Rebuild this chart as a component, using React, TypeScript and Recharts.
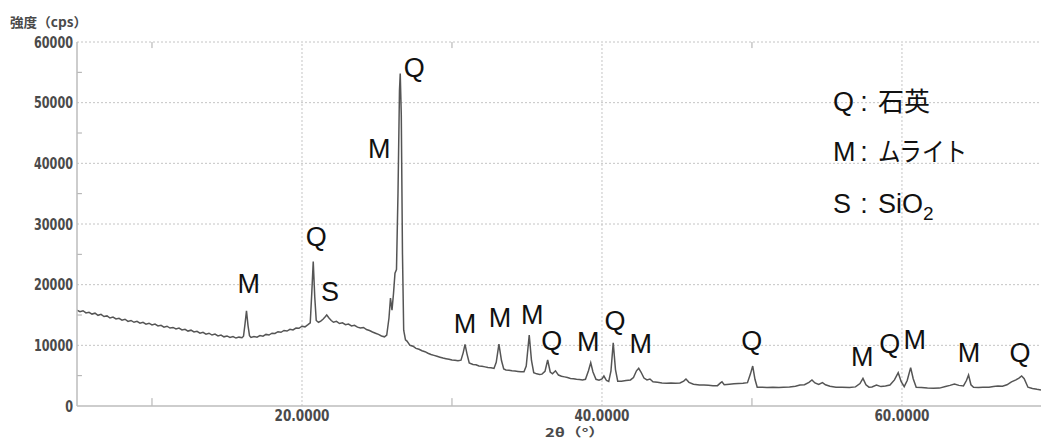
import React from 'react';
import { LineChart, Line, XAxis, YAxis, ReferenceLine, ReferenceDot } from 'recharts';

// [2θ (deg), intensity (cps)]
const scan: [number, number][] = [
  [5.0, 15800], [5.2, 15550], [5.4, 15700], [5.6, 15350], [5.8, 15450], [6.0, 15150], [6.2, 15300], [6.4, 14950],
  [6.6, 15100], [6.8, 14750], [7.0, 14850], [7.2, 14500], [7.4, 14650], [7.6, 14350], [7.8, 14450], [8.0, 14150],
  [8.2, 14300], [8.4, 13950], [8.6, 14100], [8.8, 13800], [9.0, 13950], [9.2, 13650], [9.4, 13800], [9.6, 13500],
  [9.8, 13650], [10.0, 13350], [10.2, 13500], [10.4, 13200], [10.6, 13300], [10.8, 13000], [11.0, 13150], [11.2, 12850],
  [11.4, 12950], [11.6, 12700], [11.8, 12850], [12.0, 12550], [12.2, 12650], [12.4, 12350], [12.6, 12500], [12.8, 12200],
  [13.0, 12300], [13.2, 12000], [13.4, 12150], [13.6, 11850], [13.8, 12000], [14.0, 11700], [14.2, 11850], [14.4, 11550],
  [14.6, 11700], [14.8, 11400], [15.0, 11550], [15.2, 11300], [15.4, 11450], [15.6, 11200], [15.8, 11350], [16.0, 11250],
  [16.1, 11500], [16.2, 13500], [16.3, 15700], [16.4, 13300], [16.5, 11600], [16.6, 11300], [16.8, 11450], [17.0, 11350],
  [17.2, 11600], [17.4, 11500], [17.6, 11800], [17.8, 11700], [18.0, 12000], [18.2, 11950], [18.4, 12250], [18.6, 12150],
  [18.8, 12450], [19.0, 12350], [19.2, 12650], [19.4, 12550], [19.6, 12850], [19.8, 12800], [20.0, 13150], [20.2, 13050],
  [20.4, 13400], [20.55, 13700], [20.65, 18500], [20.75, 23800], [20.85, 18000], [20.95, 14100], [21.1, 13800], [21.25, 14000],
  [21.4, 14300], [21.55, 14700], [21.65, 15000], [21.8, 14500], [21.95, 14100], [22.1, 13800], [22.3, 13950], [22.5, 13600],
  [22.7, 13700], [22.9, 13400], [23.1, 13500], [23.3, 13200], [23.5, 13300], [23.7, 13000], [23.9, 12850], [24.1, 12950],
  [24.3, 12600], [24.5, 12450], [24.7, 12200], [24.9, 12000], [25.1, 11800], [25.3, 11550], [25.5, 11400], [25.65, 11700],
  [25.8, 14500], [25.9, 17800], [26.0, 15800], [26.1, 18500], [26.2, 21900], [26.3, 22500], [26.4, 35000], [26.5, 52000],
  [26.55, 54800], [26.62, 48000], [26.7, 25000], [26.78, 12500], [26.9, 10900], [27.0, 10700], [27.2, 10000], [27.4, 9850],
  [27.6, 9500], [27.8, 9350], [28.0, 9100], [28.2, 8950], [28.4, 8700], [28.6, 8500], [28.8, 8350], [29.0, 8200],
  [29.2, 8050], [29.4, 7900], [29.6, 7800], [29.8, 7700], [30.0, 7600], [30.2, 7550], [30.4, 7450], [30.6, 7550],
  [30.75, 8800], [30.87, 10170], [31.0, 8600], [31.15, 7100], [31.4, 6850], [31.6, 6800], [31.8, 6600], [32.0, 6550],
  [32.2, 6450], [32.4, 6350], [32.6, 6300], [32.8, 6200], [32.95, 7200], [33.13, 10200], [33.3, 7500], [33.45, 6100],
  [33.6, 5950], [33.8, 5900], [34.0, 5800], [34.2, 5750], [34.4, 5700], [34.6, 5650], [34.8, 5650], [34.95, 6600],
  [35.15, 11700], [35.3, 7500], [35.45, 5500], [35.65, 5300], [35.85, 5200], [36.0, 5250], [36.2, 5700], [36.38, 7580],
  [36.55, 5600], [36.7, 5300], [36.9, 5800], [37.1, 5100], [37.3, 4900], [37.5, 4800], [37.7, 4700], [37.9, 4550],
  [38.1, 4500], [38.3, 4400], [38.5, 4350], [38.7, 4300], [38.9, 4400], [39.1, 5800], [39.25, 7140], [39.4, 5600],
  [39.6, 4400], [39.8, 4250], [40.0, 4450], [40.13, 4940], [40.3, 4200], [40.45, 4050], [40.6, 5800], [40.75, 10430],
  [40.9, 6000], [41.05, 4100], [41.3, 4100], [41.6, 4200], [41.9, 4300], [42.1, 4700], [42.3, 5800], [42.45, 6210],
  [42.6, 5600], [42.8, 4600], [43.0, 4300], [43.2, 4450], [43.4, 4000], [43.7, 3900], [44.0, 3800], [44.3, 3750],
  [44.6, 3800], [44.9, 3750], [45.2, 3800], [45.45, 4100], [45.6, 4450], [45.8, 3900], [46.1, 3600], [46.5, 3450],
  [46.8, 3450], [47.1, 3400], [47.4, 3350], [47.7, 3350], [47.9, 3800], [48.0, 3980], [48.15, 3500], [48.5, 3600],
  [48.8, 3650], [49.1, 3700], [49.4, 3750], [49.7, 3850], [49.9, 5300], [50.05, 6590], [50.2, 4400], [50.35, 3100],
  [50.7, 3100], [51.0, 3050], [51.4, 3100], [51.8, 3050], [52.1, 3100], [52.5, 3150], [52.9, 3250], [53.2, 3450],
  [53.5, 3500], [53.8, 3900], [54.0, 4286], [54.2, 3800], [54.45, 3550], [54.7, 3846], [54.9, 3500], [55.2, 3250],
  [55.6, 3100], [56.0, 3100], [56.5, 3050], [56.9, 3150], [57.2, 3700], [57.4, 4560], [57.6, 3500], [57.8, 3100],
  [58.0, 3150], [58.3, 3460], [58.6, 3200], [58.9, 3300], [59.2, 3450], [59.5, 4300], [59.75, 5490], [59.95, 4000],
  [60.15, 3200], [60.35, 4200], [60.58, 6318], [60.75, 4500], [60.95, 3100], [61.3, 3050], [61.7, 2950], [62.1, 2912],
  [62.5, 2950], [62.9, 3200], [63.2, 3400], [63.5, 3627], [63.8, 3400], [64.1, 3300], [64.3, 4200], [64.44, 5109],
  [64.6, 3500], [64.77, 3077], [65.1, 3050], [65.4, 3077], [65.8, 3100], [66.1, 3200], [66.4, 3300], [66.7, 3250],
  [67.0, 3500], [67.3, 3976], [67.6, 4300], [67.8, 4600], [67.98, 4945], [68.15, 4500], [68.4, 3100], [68.7, 2900],
  [69.0, 2750], [69.27, 2640],
];

const xDomain: [number, number] = [5, 69.27];
const yDomain: [number, number] = [0, 60000];
const xMajorTicks = [20, 40, 60];
const xMinorTicks = [10, 30, 50];
const yMajorTicks = [0, 10000, 20000, 30000, 40000, 50000, 60000];
const yMinorTicks = [5000, 15000, 25000, 35000, 45000, 55000];

// peak identification labels: phase letter placed at (2θ, cps)
const peakLabels: { phase: string; angle: number; counts: number }[] = [
  { phase: 'M', angle: 16.45, counts: 20226 },
  { phase: 'Q', angle: 20.95, counts: 27973 },
  { phase: 'S', angle: 21.87, counts: 18956 },
  { phase: 'M', angle: 25.15, counts: 42480 },
  { phase: 'Q', angle: 27.49, counts: 55830 },
  { phase: 'M', angle: 30.87, counts: 13682 },
  { phase: 'M', angle: 33.2, counts: 14671 },
  { phase: 'M', angle: 35.35, counts: 15165 },
  { phase: 'Q', angle: 36.65, counts: 10879 },
  { phase: 'M', angle: 39.09, counts: 10665 },
  { phase: 'Q', angle: 40.87, counts: 14176 },
  { phase: 'M', angle: 42.58, counts: 10270 },
  { phase: 'Q', angle: 49.98, counts: 10879 },
  { phase: 'M', angle: 57.35, counts: 8127 },
  { phase: 'Q', angle: 59.18, counts: 10335 },
  { phase: 'M', angle: 60.85, counts: 10929 },
  { phase: 'M', angle: 64.47, counts: 8901 },
  { phase: 'Q', angle: 67.87, counts: 8852 },
];

const legendRows: { key: string; name: string; sub?: string; angle: number; counts: number; nameWidth?: number }[] = [
  { key: 'Q', name: '石英', angle: 55.4, counts: 50276 },
  { key: 'M', name: 'ムライト', angle: 55.4, counts: 42034, nameWidth: 89 },
  { key: 'S', name: 'SiO', sub: '2', angle: 55.4, counts: 33462 },
];

const yTitle = '強度（cps）';
const xTitle = '2θ（°）';

const data = scan.map(([angle, counts]) => ({ angle, counts }));

const SANS = '"Liberation Sans", Arial, sans-serif';
const TICK_FONT = '"DejaVu Sans", sans-serif';
const CJK = '"Noto Sans CJK JP", sans-serif';
const GRID = '#c4c4c4';

const XTick = (props: any) => {
  const { x, y, payload } = props;
  return (
    <text x={x} y={y + 14.5} textAnchor="middle" fontFamily={TICK_FONT} fontSize={15} fontWeight="bold" fill="#4a4a4a"
      textLength={55} lengthAdjust="spacingAndGlyphs">
      {Number(payload.value).toFixed(4)}
    </text>
  );
};

const YTick = (props: any) => {
  const { x, y, payload } = props;
  const s = String(payload.value);
  return (
    <text x={x} y={y + 5.5} textAnchor="end" fontFamily={TICK_FONT} fontSize={15} fontWeight="bold" fill="#4a4a4a"
      textLength={s.length * 7.8} lengthAdjust="spacingAndGlyphs">
      {s}
    </text>
  );
};

const PeakLabel = (props: any) => {
  const { viewBox, text } = props;
  const cx = viewBox.x + (viewBox.width || 0) / 2;
  const cy = viewBox.y + (viewBox.height || 0) / 2;
  return (
    <text x={cx} y={cy + 9.6} textAnchor="middle" fontFamily={SANS} fontSize={27} fill="#111">
      {text}
    </text>
  );
};

const LegendRow = (props: any) => {
  const { viewBox, row } = props;
  const x = viewBox.x + (viewBox.width || 0) / 2;
  const y = viewBox.y + (viewBox.height || 0) / 2 + 9.6;
  return (
    <g>
      <text x={x} y={y} fontFamily={SANS} fontSize={27} fill="#111">{row.key}</text>
      <text x={x + 31} y={y} textAnchor="middle" fontFamily={SANS} fontSize={27} fill="#111">:</text>
      {row.sub ? (
        <text x={x + 45} y={y} fontFamily={SANS} fontSize={27} fill="#111">
          {row.name}
          <tspan fontSize={19} dy={7}>{row.sub}</tspan>
        </text>
      ) : (
        <text x={x + 45} y={y} fontFamily={CJK} fontSize={26} fill="#111"
          {...(row.nameWidth ? { textLength: row.nameWidth, lengthAdjust: 'spacingAndGlyphs' } : {})}>
          {row.name}
        </text>
      )}
    </g>
  );
};

const YTitle = (props: any) => {
  const { viewBox } = props;
  return (
    <text x={viewBox.x + 10} y={viewBox.y - 15.5} fontFamily={CJK} fontSize={13} fontWeight="bold" fill="#4a4a4a"
      textLength={77} lengthAdjust="spacingAndGlyphs">
      {yTitle}
    </text>
  );
};

const XTitle = (props: any) => {
  const { viewBox } = props;
  return (
    <text x={viewBox.x + 468} y={viewBox.y + 31} fontFamily={CJK} fontSize={12} fontWeight="bold" fill="#4a4a4a"
      textLength={60} lengthAdjust="spacingAndGlyphs">
      {xTitle}
    </text>
  );
};

export default function App() {
  return (
    <div style={{ position: 'absolute', left: 0, top: 0, width: 1041, height: 439, background: '#fff' }}>
      <LineChart width={1041} height={439} data={data} margin={{ top: 42, right: 0, bottom: 0, left: 0 }}>
        <XAxis dataKey="angle" type="number" domain={xDomain} allowDataOverflow ticks={xMajorTicks} interval={0}
          height={33} tickSize={0} tickMargin={0} tickLine={false} axisLine={{ stroke: '#bdbdbd', strokeWidth: 1.5 }}
          tick={<XTick />} label={<XTitle />} />
        <YAxis type="number" domain={yDomain} allowDataOverflow ticks={yMajorTicks} interval={0} width={77}
          tickSize={0} tickMargin={4} tickLine={false} axisLine={{ stroke: '#bdbdbd', strokeWidth: 1.5 }}
          tick={<YTick />} label={<YTitle />} />
        {yMajorTicks.filter((v) => v > 0).map((v) => (
          <ReferenceLine key={`hy${v}`} y={v} stroke={GRID} strokeDasharray="2 2" ifOverflow="visible" />
        ))}
        {xMajorTicks.map((v) => (
          <ReferenceLine key={`vx${v}`} x={v} stroke={GRID} strokeDasharray="2 2" ifOverflow="visible" />
        ))}
        {xMinorTicks.map((v) => (
          <ReferenceLine key={`mxb${v}`} segment={[{ x: v, y: 0 }, { x: v, y: 1300 }]} stroke="#aaa" ifOverflow="visible" />
        ))}
        {xMinorTicks.map((v) => (
          <ReferenceLine key={`mxt${v}`} segment={[{ x: v, y: 60000 }, { x: v, y: 59000 }]} stroke="#aaa" ifOverflow="visible" />
        ))}
        {yMinorTicks.map((v) => (
          <ReferenceLine key={`my${v}`} segment={[{ x: 5, y: v }, { x: 5.33, y: v }]} stroke="#aaa" ifOverflow="visible" />
        ))}
        <Line dataKey="counts" type="linear" stroke="#555" strokeWidth={1.5} dot={false} isAnimationActive={false} />
        {peakLabels.map((p, i) => (
          <ReferenceDot key={`pl${i}`} x={p.angle} y={p.counts} r={0} stroke="none" fill="none" ifOverflow="visible"
            label={<PeakLabel text={p.phase} />} />
        ))}
        {legendRows.map((r) => (
          <ReferenceDot key={`lg${r.key}`} x={r.angle} y={r.counts} r={0} stroke="none" fill="none" ifOverflow="visible"
            label={<LegendRow row={r} />} />
        ))}
      </LineChart>
    </div>
  );
}
